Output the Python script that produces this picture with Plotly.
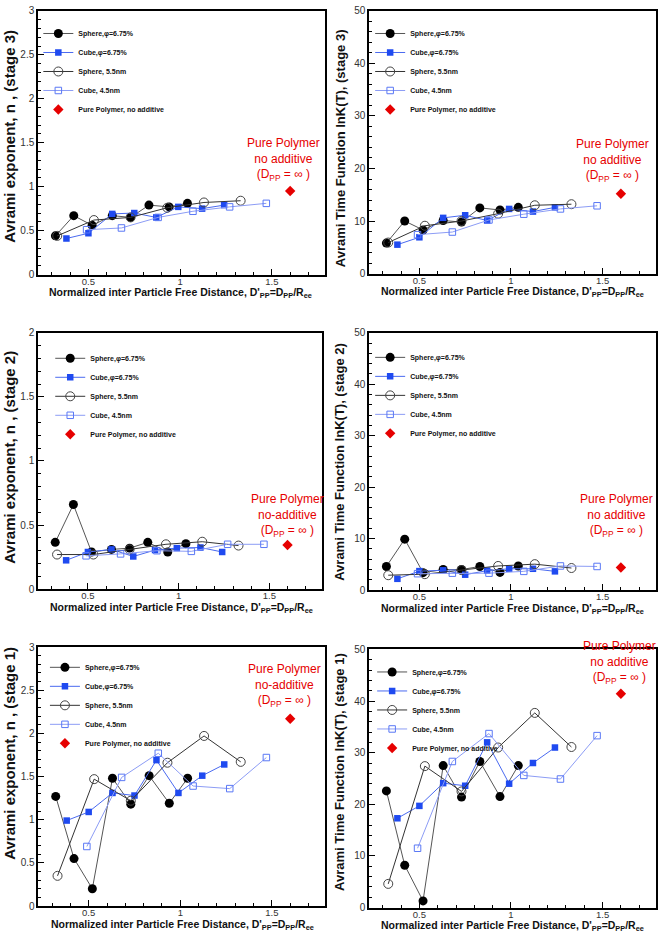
import plotly.graph_objects as go

# ---------------- data ----------------
x_sphere675 = [0.32, 0.42, 0.52, 0.63, 0.73, 0.83, 0.94, 1.04]
x_cube675 = [0.38, 0.50, 0.63, 0.75, 0.87, 0.99, 1.12, 1.24]
x_sphere55 = [0.33, 0.53, 0.73, 0.93, 1.13, 1.33]
x_cube45 = [0.49, 0.68, 0.88, 1.07, 1.27, 1.47]
x_pure = [1.6]

# stage 3
s675_n3 = [0.44, 0.67, 0.56, 0.67, 0.65, 0.79, 0.77, 0.81]
c675_n3 = [0.41, 0.47, 0.69, 0.70, 0.65, 0.77, 0.75, 0.79]
s55_n3 = [0.44, 0.62, 0.65, 0.76, 0.82, 0.84]
c45_n3 = [0.51, 0.53, 0.65, 0.72, 0.77, 0.81]
pure_n3 = [0.95]

s675_k3 = [5.8, 10.0, 8.3, 10.1, 9.8, 12.5, 12.1, 12.6]
c675_k3 = [5.5, 6.9, 10.6, 11.1, 10.1, 12.3, 11.8, 12.6]
s55_k3 = [5.9, 9.1, 10.0, 11.4, 13.0, 13.2]
c45_k3 = [7.4, 7.9, 10.2, 11.3, 12.3, 12.9]
pure_k3 = [15.2]

# stage 2
s675_n2 = [0.365, 0.66, 0.29, 0.31, 0.32, 0.365, 0.29, 0.355]
c675_n2 = [0.225, 0.29, 0.31, 0.255, 0.305, 0.32, 0.325, 0.29]
s55_n2 = [0.27, 0.27, 0.31, 0.35, 0.37, 0.34]
c45_n2 = [0.26, 0.275, 0.30, 0.295, 0.35, 0.35]
pure_n2 = [0.345]

s675_k2 = [4.6, 9.9, 3.4, 4.0, 4.0, 4.6, 3.45, 4.7]
c675_k2 = [2.2, 3.7, 3.85, 3.0, 3.8, 4.15, 4.15, 3.65]
s55_k2 = [2.9, 3.1, 3.9, 4.7, 5.05, 4.3]
c45_k2 = [3.2, 3.3, 3.3, 3.65, 4.7, 4.6]
pure_k2 = [4.4]

# stage 1
s675_n1 = [1.27, 0.55, 0.20, 1.48, 1.18, 1.51, 1.19, 1.48]
c675_n1 = [0.99, 1.09, 1.31, 1.28, 1.69, 1.31, 1.51, 1.64]
s55_n1 = [0.35, 1.47, 1.22, 1.66, 1.97, 1.67]
c45_n1 = [0.69, 1.49, 1.77, 1.39, 1.36, 1.72]
pure_n1 = [2.17]

s675_k1 = [22.6, 8.2, 1.3, 27.5, 21.4, 28.3, 21.5, 27.5]
c675_k1 = [17.3, 19.7, 24.1, 23.6, 32.0, 24.0, 28.0, 31.0]
s55_k1 = [4.6, 27.4, 22.5, 31.0, 37.7, 31.1]
c45_k1 = [11.5, 28.3, 33.7, 25.6, 24.9, 33.3]
pure_k1 = [41.4]

series_names = ["Sphere,φ=6.75%", "Cube,φ=6.75%", "Sphere, 5.5nm", "Cube, 4.5nm",
                "Pure Polymer, no additive"]

y_titles = ["Avrami exponent, n , (stage 3)", "Avrami Time Function lnK(T), (stage 3)",
            "Avrami exponent, n , (stage 2)", "Avrami Time Function lnK(T), (stage 2)",
            "Avrami exponent, n , (stage 1)", "Avrami Time Function lnK(T), (stage 1)"]
pure_labels = ["Pure Polymer<br>no additive<br>(D<sub>PP</sub> = ∞ )",
               "Pure Polymer<br>no additive<br>(D<sub>PP</sub> = ∞ )",
               "Pure Polymer<br>no-additive<br>(D<sub>PP</sub> = ∞ )",
               "Pure Polymer<br>no additive<br>(D<sub>PP</sub> = ∞ )",
               "Pure Polymer<br>no-additive<br>(D<sub>PP</sub> = ∞ )",
               "Pure Polymer<br>no additive<br>(D<sub>PP</sub> = ∞ )"]
x_title = "Normalized inter Particle Free Distance, D'<sub>PP</sub>=D<sub>PP</sub>/R<sub>ee</sub>"

panels = [
    (s675_n3, c675_n3, s55_n3, c45_n3, pure_n3),
    (s675_k3, c675_k3, s55_k3, c45_k3, pure_k3),
    (s675_n2, c675_n2, s55_n2, c45_n2, pure_n2),
    (s675_k2, c675_k2, s55_k2, c45_k2, pure_k2),
    (s675_n1, c675_n1, s55_n1, c45_n1, pure_n1),
    (s675_k1, c675_k1, s55_k1, c45_k1, pure_k1),
]

# ---------------- layout geometry ----------------
W, H = 661, 940
xdoms = [(38 / W, 325 / W), (369 / W, 655.7 / W), (38 / W, 322 / W),
         (369 / W, 655.7 / W), (38.3 / W, 325 / W), (369 / W, 655.7 / W)]
ydoms = [(1 - 272 / H, 1 - 5 / H), (1 - 271 / H, 1 - 5 / H), (1 - 590.7 / H, 1 - 331 / H),
         (1 - 591.7 / H, 1 - 331 / H), (1 - 911.7 / H, 1 - 649.3 / H), (1 - 913.3 / H, 1 - 651.7 / H)]
yranges = [[0, 3], [0, 50], [0, 2], [0, 50], [0, 3], [0, 50]]
ydticks = [0.5, 10, 0.5, 10, 0.5, 10]
yminor = [0.1, 2, 0.1, 2, 0.1, 2]
legend_pos = [(0.058, 0.986), (0.560, 0.986), (0.076, 0.636), (0.560, 0.637),
              (0.068, 0.303), (0.563, 0.298)]
ytitle_pos = [(10, 132.5), (340, 144), (10, 457.5), (340, 461.7), (10, 757.5), (340, 775.8)]
xtitle_pos = [(180.5, 291), (512.5, 290), (181, 609.5), (512.5, 611), (182.5, 931), (512.5, 932)]
pure_shift = [(-7, 6), (-8, 8), (0, 4), (-4, 26), (-6, 8), (-1, 6)]

FONT = "Arial, Liberation Sans, sans-serif"

styles = [
    dict(mode="lines+markers", line=dict(color="#555555", width=1),
         marker=dict(symbol="circle", size=9, color="black")),
    dict(mode="lines+markers", line=dict(color="#4a6af0", width=1),
         marker=dict(symbol="square", size=6.5, color="#1f4af0")),
    dict(mode="lines+markers", line=dict(color="#333333", width=1),
         marker=dict(symbol="circle-open", size=9, color="#444444", line=dict(width=1))),
    dict(mode="lines+markers", line=dict(color="#8c9cf5", width=1),
         marker=dict(symbol="square-open", size=6.5, color="#5a78f5", line=dict(width=1))),
    dict(mode="markers", marker=dict(symbol="diamond", size=8, color="#e60000")),
]
xs = [x_sphere675, x_cube675, x_sphere55, x_cube45, x_pure]

fig = go.Figure()
layout = dict(width=W, height=H, margin=dict(l=0, r=0, t=0, b=0),
              paper_bgcolor="white", plot_bgcolor="white", showlegend=True,
              font=dict(family=FONT, color="#222222"))
annotations = []

for p in range(6):
    suf = "" if p == 0 else str(p + 1)
    leg = "legend" if p == 0 else "legend" + str(p + 1)
    for s in range(5):
        fig.add_trace(go.Scatter(x=xs[s], y=panels[p][s], name=series_names[s],
                                 xaxis="x" + suf, yaxis="y" + suf, legend=leg,
                                 cliponaxis=False, **styles[s]))
    layout["xaxis" + suf] = dict(domain=list(xdoms[p]), anchor="y" + suf, range=[0.225, 1.79],
                                 tickmode="array", tickvals=[0.5, 1, 1.5], ticktext=["0.5", "1", "1.5"],
                                 ticks="inside", ticklen=6, tickcolor="black",
                                 minor=dict(dtick=0.1, tick0=0, ticks="inside", ticklen=3, tickcolor="black"),
                                 showgrid=False, zeroline=False, showline=True, mirror=True,
                                 linecolor="black", linewidth=1.5, ticklabelstandoff=-3,
                                 tickfont=dict(size=9.5, color="#333333", family=FONT))
    layout["yaxis" + suf] = dict(domain=list(ydoms[p]), anchor="x" + suf, range=yranges[p],
                                 dtick=ydticks[p], tick0=0,
                                 ticks="inside", ticklen=6, tickcolor="black",
                                 minor=dict(dtick=yminor[p], tick0=0, ticks="inside", ticklen=3, tickcolor="black"),
                                 showgrid=False, zeroline=False, showline=True, mirror=True,
                                 linecolor="black", linewidth=1.5,
                                 tickfont=dict(size=10, color="#333333", family=FONT))
    layout[leg] = dict(x=legend_pos[p][0], y=legend_pos[p][1], xanchor="left", yanchor="top",
                       bgcolor="rgba(0,0,0,0)", borderwidth=0, itemwidth=30,
                       font=dict(size=7, family=FONT, color="#111111", weight="bold"),
                       tracegroupgap=0)
    # y-axis title
    tx, ty = ytitle_pos[p]
    annotations.append(dict(text="<b>" + y_titles[p] + "</b>", xref="paper", yref="paper",
                            x=tx / W, y=1 - ty / H, xanchor="center", yanchor="middle",
                            textangle=-90, showarrow=False,
                            font=dict(size=15 if p % 2 == 0 else 13, family=FONT, color="#111111")))
    # x-axis title
    tx, ty = xtitle_pos[p]
    annotations.append(dict(text="<b>" + x_title + "</b>", xref="paper", yref="paper",
                            x=tx / W, y=1 - ty / H, xanchor="center", yanchor="middle",
                            showarrow=False, font=dict(size=10.5, family=FONT, color="#111111")))
    # pure polymer label
    dx, dy = pure_shift[p]
    annotations.append(dict(text=pure_labels[p], xref="x" + suf, yref="y" + suf,
                            x=x_pure[0], y=panels[p][4][0], xanchor="center", yanchor="bottom",
                            xshift=dx, yshift=dy, showarrow=False,
                            font=dict(size=12, family=FONT, color="#e60000")))

layout["annotations"] = annotations
fig.update_layout(**layout)
fig.write_html("out.html", config={"displayModeBar": False},
               post_script="document.body.style.margin='0px';document.body.style.overflow='hidden';")
